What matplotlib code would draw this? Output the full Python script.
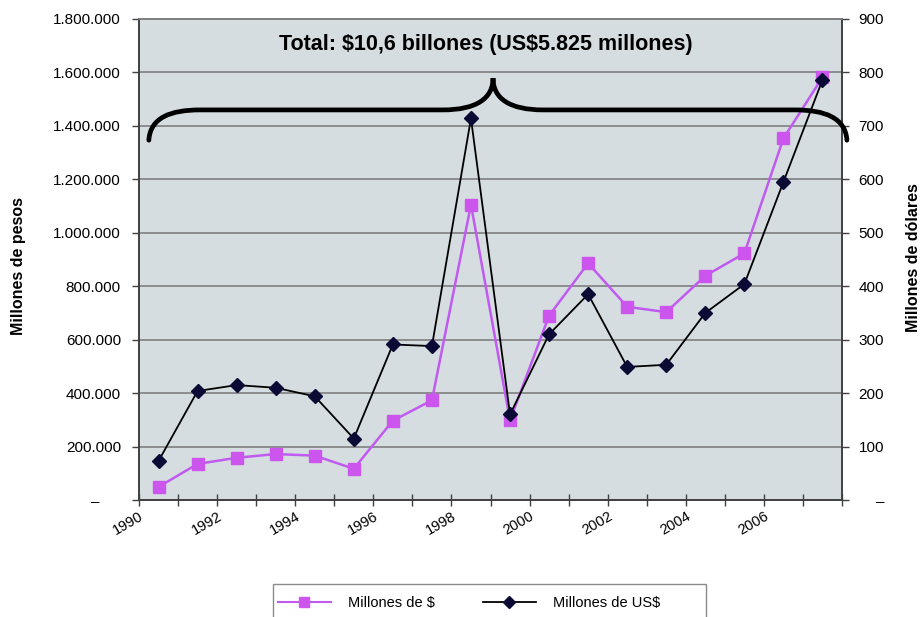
import numpy as np
import matplotlib
matplotlib.use("Agg")
import matplotlib.pyplot as plt
from matplotlib.path import Path
from matplotlib.patches import PathPatch, Rectangle
from matplotlib.lines import Line2D
from matplotlib.ticker import FuncFormatter, MultipleLocator

plt.rcParams['font.family'] = ['Liberation Sans', 'DejaVu Sans']

# datos por año
anios = [1990, 1991, 1992, 1993, 1994, 1995, 1996, 1997, 1998,
         1999, 2000, 2001, 2002, 2003, 2004, 2005, 2006, 2007]
millones_pesos = [49000, 135000, 158000, 172000, 166000, 117000, 297000, 373000, 1105000,
                  298000, 690000, 886000, 723000, 703000, 839000, 923000, 1353000, 1582000]
millones_usd = [73, 204, 215, 210, 194, 115, 291, 288, 714,
                160, 310, 385, 249, 253, 350, 404, 595, 786]
titulo = r'Total: \$10,6 billones (US\$5.825 millones)'

color_fondo = '#d5dde0'
color_grilla = '#7f7f7f'
color_pesos = '#c05af0'
color_usd = '#0a0a35'

fig = plt.figure(figsize=(9.24, 6.17), dpi=100)
ax = fig.add_axes([139 / 924, 1 - 500 / 617, 703 / 924, 481 / 617])
ax.set_facecolor(color_fondo)

x = np.arange(len(anios)) + 0.5
ax.plot(x, millones_pesos, color=color_pesos, lw=1.8, marker='s', ms=8,
        mfc='#cc55ee', mec='#cc55ee', zorder=3)
ax.set_xlim(0, len(anios))
ax.set_ylim(0, 1800000)

ax2 = ax.twinx()
ax2.plot(x, millones_usd, color='black', lw=1.3, marker='D', ms=7,
         mfc=color_usd, mec=color_usd, zorder=3)
ax2.set_ylim(0, 900)

# grilla horizontal
ax.yaxis.set_major_locator(MultipleLocator(200000))
ax.grid(axis='y', color=color_grilla, lw=1.2)
ax.set_axisbelow(True)
ax2.yaxis.set_major_locator(MultipleLocator(100))


def fmt_pesos(v, pos):
    if v == 0:
        return '–     '
    return f'{v:,.0f}'.replace(',', '.')


def fmt_usd(v, pos):
    if v == 0:
        return '    –'
    return f'{v:.0f}'


ax.yaxis.set_major_formatter(FuncFormatter(fmt_pesos))
ax2.yaxis.set_major_formatter(FuncFormatter(fmt_usd))
ax.tick_params(axis='y', direction='out', length=5, width=1, color='#404040',
               labelsize=11, pad=8)
ax2.tick_params(axis='y', direction='out', length=5, width=1, color='#404040',
                labelsize=11, pad=7)

# eje de categorías: marcas en los bordes, etiquetas cada dos años
ax.set_xticks(np.arange(len(anios) + 1))
ax.set_xticklabels([str(a) if i % 2 == 0 else '' for i, a in enumerate(anios)] + [''])
ax.tick_params(axis='x', direction='inout', length=9, width=1, color='#404040',
               labelsize=10.5, pad=2)
plt.setp(ax.get_xticklabels(), rotation=30, ha='right', va='top',
         rotation_mode='anchor')

for a in (ax, ax2):
    for s in a.spines.values():
        s.set_color('#404040')
        s.set_linewidth(1.2)
    a.spines['top'].set_color(color_grilla)

# títulos de los ejes
fig.text(19 / 924, 1 - 266 / 617, 'Millones de pesos', rotation=90,
         ha='center', va='center', fontsize=11.5, fontweight='bold')
fig.text(914 / 924, 1 - 258 / 617, 'Millones de dólares', rotation=90,
         ha='center', va='center', fontsize=11.5, fontweight='bold')

# llave sobre todo el período
verts = [(0.014, 0.748),
         (0.016, 0.795), (0.045, 0.811), (0.087, 0.811),
         (0.432, 0.811),
         (0.480, 0.811), (0.5036, 0.835), (0.5036, 0.877),
         (0.5036, 0.835), (0.527, 0.811), (0.575, 0.811),
         (0.933, 0.811),
         (0.975, 0.811), (1.005, 0.795), (1.007, 0.748)]
codes = [Path.MOVETO,
         Path.CURVE4, Path.CURVE4, Path.CURVE4,
         Path.LINETO,
         Path.CURVE4, Path.CURVE4, Path.CURVE4,
         Path.CURVE4, Path.CURVE4, Path.CURVE4,
         Path.LINETO,
         Path.CURVE4, Path.CURVE4, Path.CURVE4]
llave = PathPatch(Path(verts, codes), transform=ax.transAxes, fill=False,
                  lw=3.4, edgecolor='black', clip_on=False, zorder=4,
                  capstyle='round')
ax2.add_patch(llave)

ax.text(0.494, 0.946, titulo, transform=ax.transAxes, ha='center', va='center',
        fontsize=15.5, fontweight='bold')

# leyenda
handles = [Line2D([], [], color=color_pesos, lw=1.5, marker='s', ms=7,
                  mfc='#cc55ee', mec='#cc55ee'),
           Line2D([], [], color='black', lw=1.3, marker='D', ms=6,
                  mfc=color_usd, mec=color_usd)]
fig.legend(handles, ['Millones de $', 'Millones de US$'], loc='center left',
           bbox_to_anchor=(278 / 924, 1 - 603 / 617), ncol=2, frameon=False,
           fontsize=10.5, handlelength=3.6, handletextpad=1.2, columnspacing=3.3,
           borderaxespad=0, borderpad=0)
fig.patches.append(Rectangle((273 / 924, -0.02), 433 / 924, 0.02 + 33 / 617,
                             transform=fig.transFigure, fill=False,
                             edgecolor='#8a8a8a', lw=1))

fig.savefig('out.png', dpi=100)
